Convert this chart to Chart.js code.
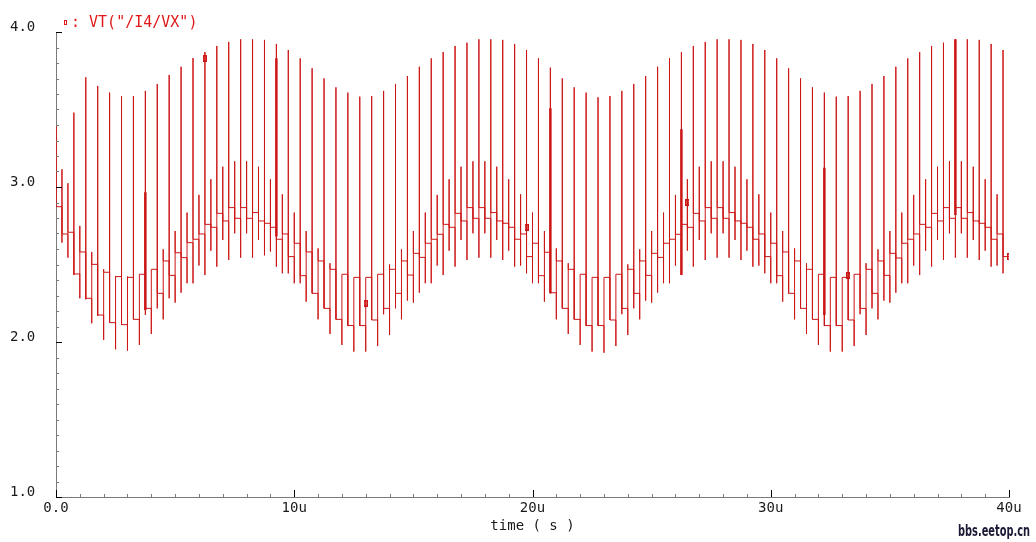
<!DOCTYPE html>
<html>
<head>
<meta charset="utf-8">
<script src="https://cdn.jsdelivr.net/npm/chart.js@4.4.0/dist/chart.umd.min.js"></script>
<style>
  html, body { margin: 0; padding: 0; background: #fff; }
</style>
</head>
<body>
<canvas id="wave" width="1036" height="542"></canvas>
<script>
    // Transition instants of the stepped waveform (u)
    const stepTimes = [
        0.25, 0.5, 0.75, 1, 1.25, 1.5, 1.75, 2, 2.25, 2.5, 2.75, 3, 3.25, 3.5, 3.75, 4, 4.25, 4.5, 4.75, 5,
        5.25, 5.5, 5.75, 6, 6.25, 6.5, 6.75, 7, 7.25, 7.5, 7.75, 8, 8.25, 8.5, 8.75, 9, 9.25, 9.5, 9.75, 10,
        10.25, 10.5, 10.75, 11, 11.25, 11.5, 11.75, 12, 12.25, 12.5, 12.75, 13, 13.25, 13.5, 13.75, 14, 14.25, 14.5, 14.75, 15,
        15.25, 15.5, 15.75, 16, 16.25, 16.5, 16.75, 17, 17.25, 17.5, 17.75, 18, 18.25, 18.5, 18.75, 19, 19.25, 19.5, 19.75, 20,
        20.25, 20.5, 20.75, 21, 21.25, 21.5, 21.75, 22, 22.25, 22.5, 22.75, 23, 23.25, 23.5, 23.75, 24, 24.25, 24.5, 24.75, 25,
        25.25, 25.5, 25.75, 26, 26.25, 26.5, 26.75, 27, 27.25, 27.5, 27.75, 28, 28.25, 28.5, 28.75, 29, 29.25, 29.5, 29.75, 30,
        30.25, 30.5, 30.75, 31, 31.25, 31.5, 31.75, 32, 32.25, 32.5, 32.75, 33, 33.25, 33.5, 33.75, 34, 34.25, 34.5, 34.75, 35,
        35.25, 35.5, 35.75, 36, 36.25, 36.5, 36.75, 37, 37.25, 37.5, 37.75, 38, 38.25, 38.5, 38.75, 39, 39.25, 39.5, 39.75
    ];

    // Settled level after each transition (first entry = level from t=0)
    const levels = [
        2.873, 2.697, 2.708, 2.439, 2.581, 2.282, 2.501, 2.174, 2.450, 2.125,
        2.422, 2.112, 2.417, 2.146, 2.437, 2.217, 2.469, 2.314, 2.523, 2.430,
        2.576, 2.544, 2.641, 2.663, 2.697, 2.759, 2.740, 2.830, 2.781, 2.867,
        2.798, 2.867, 2.798, 2.835, 2.781, 2.766, 2.740, 2.663, 2.697, 2.551,
        2.637, 2.428, 2.581, 2.314, 2.523, 2.217, 2.469, 2.146, 2.437, 2.106,
        2.417, 2.106, 2.417, 2.142, 2.437, 2.217, 2.469, 2.314, 2.523, 2.432,
        2.572, 2.546, 2.637, 2.663, 2.695, 2.759, 2.740, 2.830, 2.781, 2.867,
        2.798, 2.867, 2.798, 2.835, 2.781, 2.766, 2.740, 2.663, 2.697, 2.551,
        2.637, 2.428, 2.579, 2.318, 2.523, 2.217, 2.469, 2.146, 2.437, 2.106,
        2.417, 2.106, 2.417, 2.142, 2.437, 2.217, 2.469, 2.314, 2.523, 2.430,
        2.572, 2.546, 2.637, 2.663, 2.695, 2.759, 2.740, 2.830, 2.781, 2.867,
        2.798, 2.867, 2.798, 2.835, 2.781, 2.766, 2.740, 2.663, 2.697, 2.551,
        2.637, 2.428, 2.581, 2.314, 2.523, 2.217, 2.469, 2.146, 2.437, 2.106,
        2.417, 2.106, 2.417, 2.142, 2.437, 2.217, 2.469, 2.314, 2.523, 2.430,
        2.572, 2.542, 2.637, 2.663, 2.697, 2.759, 2.740, 2.830, 2.781, 2.867,
        2.798, 2.867, 2.798, 2.835, 2.781, 2.766, 2.740, 2.663, 2.697, 2.551
    ];

    // Glitch extremes at each transition
    const spikeTop = [
        3.114, 3.024, 3.480, 2.749, 3.708, 2.581, 3.652, 2.469, 3.609, 2.426,
        3.587, 2.422, 3.587, 2.437, 3.620, 2.469, 3.665, 2.598, 3.723, 2.716,
        3.776, 2.835, 3.832, 2.949, 3.871, 3.050, 3.910, 3.131, 3.936, 3.166,
        3.953, 3.166, 3.953, 3.131, 3.949, 3.050, 3.923, 2.953, 3.884, 2.835,
        3.830, 2.716, 3.766, 2.604, 3.701, 2.508, 3.643, 2.437, 3.609, 2.417,
        3.583, 2.417, 3.587, 2.437, 3.620, 2.501, 3.665, 2.598, 3.716, 2.716,
        3.776, 2.835, 3.830, 2.949, 3.871, 3.050, 3.910, 3.131, 3.931, 3.166,
        3.953, 3.166, 3.953, 3.131, 3.949, 3.050, 3.923, 2.953, 3.884, 2.835,
        3.830, 2.716, 3.770, 2.604, 3.701, 2.508, 3.643, 2.437, 3.609, 2.417,
        3.579, 2.417, 3.587, 2.437, 3.620, 2.501, 3.665, 2.598, 3.716, 2.716,
        3.776, 2.835, 3.830, 2.949, 3.871, 3.050, 3.910, 3.131, 3.936, 3.166,
        3.953, 3.166, 3.953, 3.131, 3.949, 3.050, 3.923, 2.953, 3.884, 2.835,
        3.830, 2.716, 3.766, 2.604, 3.701, 2.508, 3.643, 2.437, 3.609, 2.417,
        3.583, 2.417, 3.587, 2.437, 3.620, 2.508, 3.665, 2.598, 3.716, 2.716,
        3.776, 2.835, 3.830, 2.949, 3.871, 3.050, 3.910, 3.131, 3.931, 3.166,
        3.953, 3.166, 3.953, 3.131, 3.949, 3.050, 3.923, 2.953, 3.884
    ];
    const spikeBottom = [
        2.641, 2.544, 2.432, 2.282, 2.275, 2.121, 2.168, 2.013, 2.125, 1.953,
        2.114, 1.944, 2.153, 1.981, 2.174, 2.052, 2.217, 2.146, 2.282, 2.254,
        2.318, 2.379, 2.379, 2.493, 2.432, 2.589, 2.486, 2.658, 2.529, 2.701,
        2.544, 2.701, 2.544, 2.658, 2.559, 2.583, 2.486, 2.443, 2.443, 2.379,
        2.379, 2.260, 2.314, 2.146, 2.217, 2.052, 2.146, 1.981, 2.103, 1.938,
        2.103, 1.938, 2.142, 1.974, 2.179, 2.045, 2.217, 2.146, 2.267, 2.254,
        2.318, 2.379, 2.379, 2.493, 2.432, 2.589, 2.486, 2.658, 2.529, 2.701,
        2.544, 2.701, 2.544, 2.658, 2.529, 2.589, 2.486, 2.493, 2.443, 2.379,
        2.379, 2.260, 2.314, 2.146, 2.217, 2.052, 2.146, 1.981, 2.103, 1.938,
        2.103, 1.931, 2.142, 1.974, 2.179, 2.045, 2.217, 2.146, 2.267, 2.254,
        2.318, 2.379, 2.379, 2.493, 2.432, 2.589, 2.486, 2.658, 2.529, 2.701,
        2.544, 2.701, 2.544, 2.658, 2.529, 2.589, 2.486, 2.493, 2.443, 2.379,
        2.379, 2.260, 2.314, 2.146, 2.217, 2.052, 2.146, 1.981, 2.103, 1.938,
        2.103, 1.938, 2.142, 1.974, 2.179, 2.045, 2.217, 2.146, 2.267, 2.254,
        2.318, 2.379, 2.379, 2.493, 2.432, 2.589, 2.486, 2.658, 2.529, 2.701,
        2.544, 2.701, 2.544, 2.658, 2.529, 2.589, 2.486, 2.493, 2.443
    ];

    const startValue = 3.39;
    const endTime = 40;

    // Heavier glitch segments
    const boldTimes = [3.75, 9.25, 20.75, 26.25, 32.25, 37.75];
    const boldTop = [2.966, 3.830, 3.508, 3.372, 3.125, 3.953];
    const boldBottom = [2.207, 2.680, 2.314, 2.432, 2.174, 2.819];

    // Trace markers
    const markerTimes = [6.25, 13, 19.75, 26.5, 33.25, 40];
    const markerValues = [3.83, 2.25, 2.74, 2.90, 2.43, 2.55];

    const xTickLabels = ['0.0', '10u', '20u', '30u', '40u'];
    const traceName = 'VT("/I4/VX")';

    const RED = '#cc1616';
    const MONO = '"DejaVu Sans Mono", "Liberation Mono", monospace';

    // Build the stepped trace
    const trace = [{x: 0, y: startValue}, {x: 0, y: levels[0]}];
    stepTimes.forEach(function (t, i) {
        trace.push({x: t, y: levels[i]});
        trace.push({x: t, y: spikeTop[i]});
        trace.push({x: t, y: spikeBottom[i]});
        trace.push({x: t, y: levels[i + 1]});
    });
    trace.push({x: endTime, y: levels[levels.length - 1]});

    const boldPts = [];
    boldTimes.forEach(function (t, i) {
        boldPts.push({x: t, y: boldTop[i]}, {x: t, y: boldBottom[i]}, {x: t, y: null});
    });

    const markerPts = markerTimes.map(function (t, i) { return {x: t, y: markerValues[i]}; });

    // small upright rectangle marker
    const markImg = document.createElement('canvas');
    markImg.width = 4; markImg.height = 7;
    const mctx = markImg.getContext('2d');
    mctx.strokeStyle = RED;
    mctx.lineWidth = 1.5;
    mctx.strokeRect(0.75, 0.75, 2.5, 5.5);

    // Inward ticks, legend and watermark
    const decor = {
        id: 'decor',
        afterDraw(chart) {
            const ctx = chart.ctx;
            const a = chart.chartArea;
            const xs = chart.scales.x;
            const ys = chart.scales.y;
            ctx.save();
            ctx.lineWidth = 1;
            for (let i = 10; i <= 40; i++) {
                const py = Math.round(ys.getPixelForValue(i / 10)) + 0.5;
                const major = i % 10 === 0;
                ctx.strokeStyle = major ? '#000' : '#7a7a7a';
                ctx.beginPath();
                ctx.moveTo(a.left, py);
                ctx.lineTo(a.left + (major ? 6 : 3), py);
                ctx.stroke();
            }
            for (let i = 0; i <= 40; i++) {
                const px = Math.round(xs.getPixelForValue(i)) + 0.5;
                const major = i % 10 === 0;
                ctx.strokeStyle = major ? '#000' : '#7a7a7a';
                ctx.beginPath();
                ctx.moveTo(px, a.bottom);
                ctx.lineTo(px, a.bottom - (major ? 7 : 3));
                ctx.stroke();
            }

            // legend
            ctx.strokeStyle = '#e01818';
            ctx.lineWidth = 1;
            ctx.strokeRect(64.5, 20.5, 2, 4);
            ctx.fillStyle = '#e01818';
            ctx.font = '15px ' + MONO;
            ctx.textBaseline = 'alphabetic';
            ctx.textAlign = 'left';
            ctx.fillText(': ' + traceName, 71, 27);

            // watermark
            ctx.fillStyle = '#1a1a36';
            ctx.font = 'bold 15px "Liberation Sans Narrow", "DejaVu Sans Condensed", sans-serif';
            ctx.textAlign = 'right';
            ctx.fillText('bbs.eetop.cn', 1030, 536, 72);
            ctx.restore();
        }
    };

    const config = {
        type: 'line',
        data: {
            datasets: [{
                label: traceName,
                data: trace,
                borderColor: RED,
                borderWidth: 1,
                pointRadius: 0,
                tension: 0,
                fill: false
            }, {
                label: 'glitch',
                data: boldPts,
                borderColor: RED,
                borderWidth: 2.5,
                pointRadius: 0,
                spanGaps: false,
                fill: false
            }, {
                label: 'markers',
                data: markerPts,
                showLine: false,
                pointStyle: markImg,
                pointRadius: 3,
                borderColor: RED,
                backgroundColor: RED
            }]
        },
        options: {
            responsive: false,
            animation: false,
            devicePixelRatio: 1,
            layout: {
                padding: {left: 10, top: 32, right: 27, bottom: 0}
            },
            plugins: {
                legend: {display: false},
                tooltip: {enabled: false}
            },
            scales: {
                x: {
                    type: 'linear',
                    min: 0,
                    max: 40,
                    afterFit: function (scale) { scale.height = 45; },
                    grid: {display: false, drawTicks: false},
                    border: {display: true, color: '#7a7a7a', width: 1},
                    ticks: {
                        stepSize: 10,
                        autoSkip: false,
                        maxRotation: 0,
                        padding: 3,
                        color: '#1a1a1a',
                        font: {family: MONO, size: 14},
                        callback: function (value, index) { return xTickLabels[index]; }
                    },
                    title: {
                        display: true,
                        text: 'time ( s )',
                        color: '#1a1a1a',
                        font: {family: MONO, size: 14},
                        padding: {top: 0, bottom: 7}
                    }
                },
                y: {
                    min: 1,
                    max: 4,
                    afterFit: function (scale) { scale.width = 46; },
                    grid: {display: false, drawTicks: false},
                    border: {display: true, color: '#7a7a7a', width: 1},
                    ticks: {
                        stepSize: 1,
                        crossAlign: 'far',
                        labelOffset: -5,
                        padding: 0,
                        color: '#1a1a1a',
                        font: {family: MONO, size: 14},
                        callback: function (value) { return value.toFixed(1); }
                    }
                }
            }
        },
        plugins: [decor]
    };

    const waveChart = new Chart(document.getElementById('wave'), config);
</script>
</body>
</html>
